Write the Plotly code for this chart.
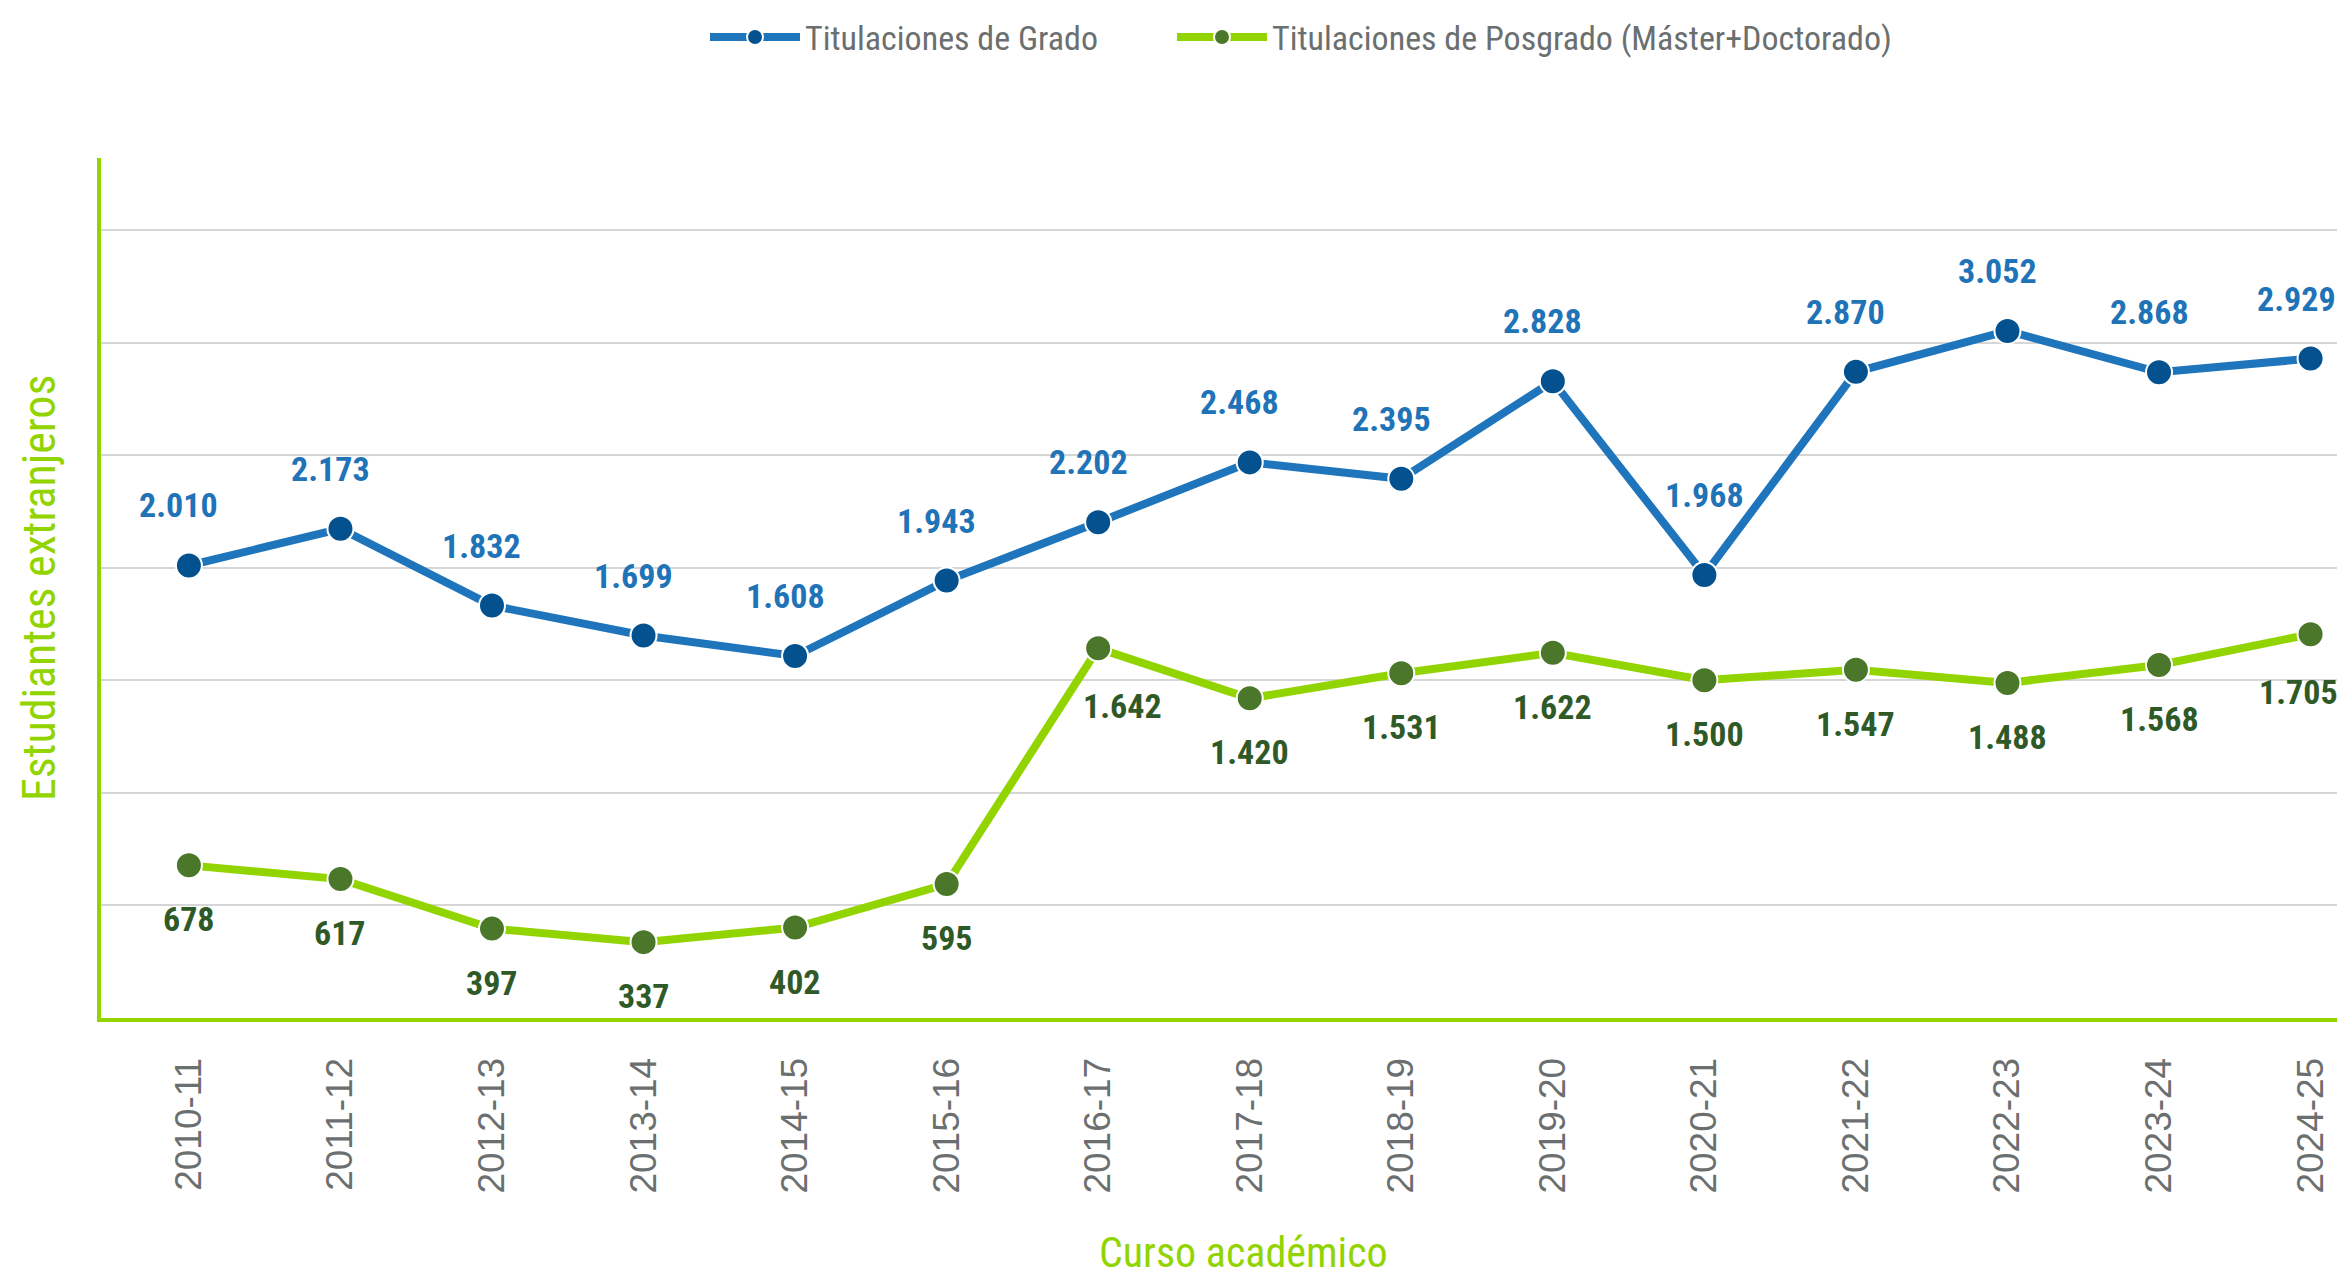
import plotly.graph_objects as go

cursos = ["2010-11", "2011-12", "2012-13", "2013-14", "2014-15", "2015-16", "2016-17",
          "2017-18", "2018-19", "2019-20", "2020-21", "2021-22", "2022-23", "2023-24", "2024-25"]
grado = [2010, 2173, 1832, 1699, 1608, 1943, 2202, 2468, 2395, 2828, 1968, 2870, 3052, 2868, 2929]
posgrado = [678, 617, 397, 337, 402, 595, 1642, 1420, 1531, 1622, 1500, 1547, 1488, 1568, 1705]

W, H = 2345, 1276
ML, MR, MT, MB = 93, 0, 147, 266
PLOT_W = W - ML - MR
PLOT_H = H - MT - MB

NARROW = "Liberation Sans Narrow, Arial Narrow, Roboto Condensed, Liberation Sans, sans-serif"
GRAY = "#6b6f6f"
LIME = "#92d400"
BLUE_LINE = "#1f75bc"
BLUE_MARK = "#03528f"
GREEN_MARK = "#4a7729"
BLUE_TXT = "#1f73b7"
GREEN_TXT = "#2f5a28"

# label placement tweaks (pixels) for a few crowded points
GRADO_LABEL_SHIFT = {"2020-21": (0, 80), "2024-25": (-14, 60)}
POSGRADO_LABEL_SHIFT = {"2016-17": (24, -58), "2024-25": (-12, -58)}


def fmt(v):
    return f"{v:,}".replace(",", ".")


def px_x(p):
    return (p - ML) / PLOT_W


def px_y(p):
    return (H - MB - p) / PLOT_H


fig = go.Figure()
fig.add_trace(go.Scatter(
    x=cursos, y=grado, mode="lines+markers", name="Titulaciones de Grado",
    line=dict(color=BLUE_LINE, width=8), legend="legend",
    marker=dict(color=BLUE_MARK, size=26, line=dict(color="white", width=2)),
))
fig.add_trace(go.Scatter(
    x=cursos, y=posgrado, mode="lines+markers", name="Titulaciones de Posgrado (Máster+Doctorado)",
    line=dict(color=LIME, width=8), legend="legend2",
    marker=dict(color=GREEN_MARK, size=26, line=dict(color="white", width=2)),
))

annotations = []
for c, v in zip(cursos, grado):
    xs, ys = GRADO_LABEL_SHIFT.get(c, (-10, 60))
    annotations.append(dict(x=c, y=v, xref="x", yref="y", text=fmt(v), showarrow=False,
                            yshift=ys, xshift=xs,
                            font=dict(family=NARROW, size=34, color=BLUE_TXT, weight="bold")))
for c, v in zip(cursos, posgrado):
    xs, ys = POSGRADO_LABEL_SHIFT.get(c, (0, -54))
    annotations.append(dict(x=c, y=v, xref="x", yref="y", text=fmt(v), showarrow=False,
                            yshift=ys, xshift=xs,
                            font=dict(family=NARROW, size=34, color=GREEN_TXT, weight="bold")))

annotations.append(dict(x=px_x(31), y=0.5, xref="paper", yref="paper",
                        text="Estudiantes extranjeros",
                        showarrow=False, textangle=-90, xanchor="center", yanchor="middle",
                        font=dict(family=NARROW, size=46, color=LIME)))
annotations.append(dict(x=px_x(1235), y=px_y(H - 4), xref="paper", yref="paper",
                        text="Curso académico",
                        showarrow=False, xanchor="center", yanchor="bottom",
                        font=dict(family=NARROW, size=42, color=LIME)))

leg_common = dict(orientation="h", yanchor="middle", y=px_y(26), xanchor="left",
                  font=dict(family=NARROW, size=34, color=GRAY), itemwidth=90,
                  bgcolor="rgba(0,0,0,0)")

fig.update_layout(
    width=W, height=H,
    margin=dict(l=ML, r=MR, t=MT, b=MB),
    paper_bgcolor="white", plot_bgcolor="white",
    showlegend=True,
    legend=dict(x=px_x(697), **leg_common),
    legend2=dict(x=px_x(1164), **leg_common),
    annotations=annotations,
    hovermode=False,
)
fig.update_xaxes(
    type="category", categoryorder="array", categoryarray=cursos,
    range=[-0.58, 14.28], showgrid=False, zeroline=False,
    showline=True, linecolor=LIME, linewidth=4,
    tickangle=-90, ticks="", ticklabelstandoff=21,
    tickfont=dict(family="Liberation Sans, Arial, sans-serif", size=37, color=GRAY),
)
fig.update_yaxes(
    range=[0, 3820], dtick=500, showgrid=True, gridcolor="#d6d6d6", gridwidth=1.5,
    zeroline=False, showline=True, linecolor=LIME, linewidth=4,
    showticklabels=False, ticks="",
)

fig.write_html("out.html")
